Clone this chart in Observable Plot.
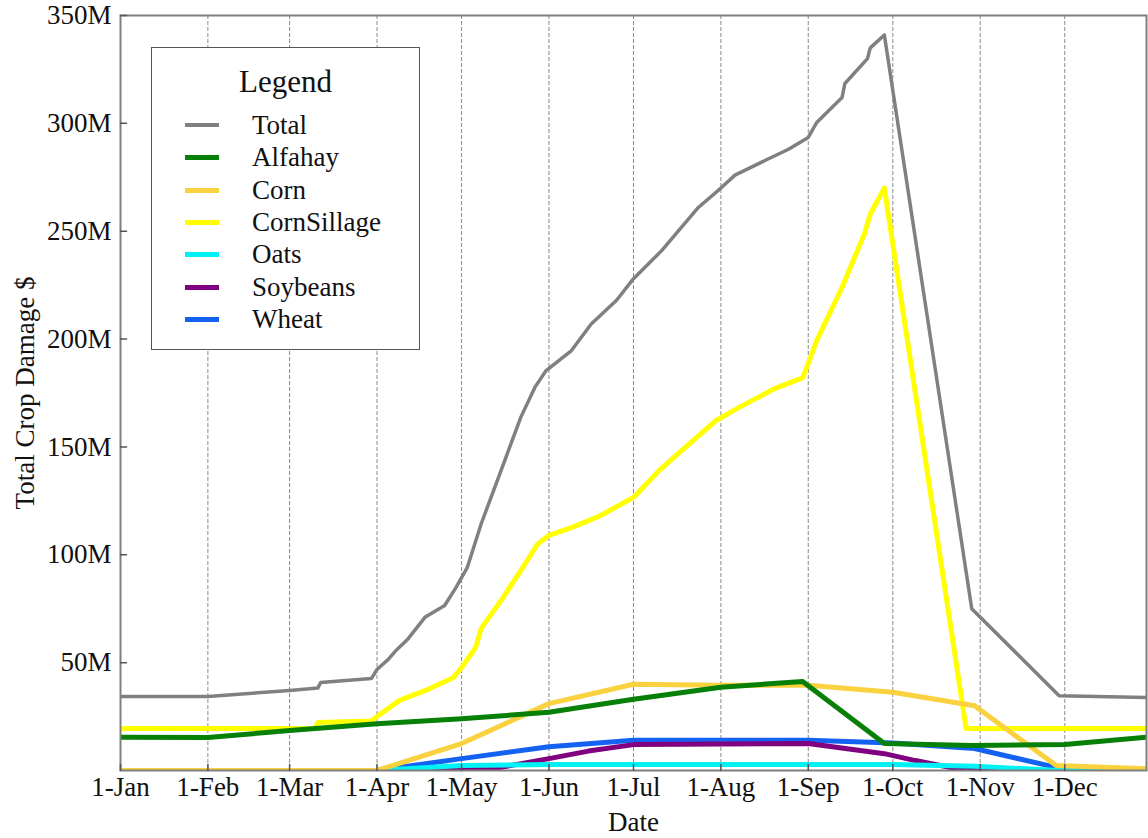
<!DOCTYPE html>
<html><head><meta charset="utf-8">
<script src="https://cdn.jsdelivr.net/npm/d3@7"></script>
<script src="https://cdn.jsdelivr.net/npm/@observablehq/plot@0.6"></script>
<style>
body{margin:0;background:#fff;}
#wrap{position:relative;width:1148px;height:838px;font-family:"Liberation Serif","Times New Roman",serif;}
#legend{position:absolute;left:151px;top:47px;width:267px;height:301px;border:1.5px solid #555;background:#fff;}
#legend .title{position:absolute;left:0;width:100%;top:14px;text-align:center;font-size:31px;line-height:40px;color:#111;}
#legend .row{position:absolute;left:0;height:32px;width:100%;}
#legend .sw{position:absolute;left:33px;width:34px;top:14px;height:5px;}
#legend .lb{position:absolute;left:100px;top:0;font-size:27px;line-height:32px;color:#111;}
</style></head>
<body><div id="wrap"></div>
<script>
// ---- data (values in millions of $) ----
const seriesNames = ["Total","Alfahay","Corn","CornSillage","Oats","Soybeans","Wheat"];
const seriesColors = ["#808080","#078007","#fad13f","#ffff00","#00f2f7","#800080","#1462f2"];

const total = [["2020-01-01",34.3],["2020-02-01",34.3],["2020-03-01",37.1],["2020-03-11",38.2],["2020-03-12",40.8],
 ["2020-03-30",42.6],["2020-04-01",46.8],["2020-04-05",51.5],["2020-04-08",56],["2020-04-12",61],["2020-04-18",71],
 ["2020-04-25",76.5],["2020-04-29",84.8],["2020-05-03",94],["2020-05-08",114.5],["2020-05-15",139],["2020-05-22",163.7],
 ["2020-05-27",177.6],["2020-05-31",185.4],["2020-06-09",194.7],["2020-06-16",207],["2020-06-25",218],["2020-07-01",228],
 ["2020-07-11",241],["2020-07-24",261],["2020-08-01",270],["2020-08-06",276],["2020-08-17",283],["2020-08-25",288],
 ["2020-09-01",293.5],["2020-09-04",300.4],["2020-09-13",312],["2020-09-14",318.5],["2020-09-22",330],["2020-09-23",335],
 ["2020-09-28",341],["2020-10-29",75],["2020-11-29",34.7],["2020-12-30",33.8]];
const alfahay = [["2020-01-01",15.4],["2020-02-01",15.3],["2020-03-01",18.5],["2020-04-01",21.7],["2020-05-01",24],
 ["2020-06-01",27],["2020-07-01",33],["2020-08-01",38.6],["2020-08-30",41.3],["2020-09-28",12.5],["2020-10-29",11.6],
 ["2020-12-01",12],["2020-12-30",15.4]];
const corn = [["2020-01-01",0],["2020-04-01",0],["2020-05-01",12.5],["2020-06-01",31],["2020-07-01",40],["2020-08-01",39.5],
 ["2020-09-01",39.5],["2020-10-01",36.3],["2020-10-30",30],["2020-11-28",2.3],["2020-12-30",0.8]];
const cornSillage = [["2020-01-01",19.5],["2020-03-10",19.5],["2020-03-11",22.3],["2020-03-30",23],["2020-04-01",25],
 ["2020-04-09",32.5],["2020-04-18",37],["2020-04-28",43],["2020-05-01",47.7],["2020-05-06",57],["2020-05-08",66],
 ["2020-05-15",78.8],["2020-05-22",92.7],["2020-05-28",105],["2020-06-01",109],["2020-06-09",112.6],["2020-06-19",118],
 ["2020-07-01",126.6],["2020-07-10",139],["2020-07-21",151.6],["2020-07-30",162],["2020-08-07",168],["2020-08-20",177],
 ["2020-08-30",182],["2020-09-01",188.6],["2020-09-04",199.3],["2020-09-13",224],["2020-09-21",249],["2020-09-23",258],
 ["2020-09-28",270],["2020-10-27",19.5],["2020-12-30",19.5]];
const oats = [["2020-01-01",0],["2020-04-01",0],["2020-05-01",2.3],["2020-06-01",2.8],["2020-10-01",2.8],["2020-10-30",2],
 ["2020-11-29",0],["2020-12-30",0]];
const soybeans = [["2020-01-01",0],["2020-05-01",0],["2020-05-15",1.5],["2020-06-01",5.5],["2020-06-15",9],["2020-07-01",12],
 ["2020-09-01",12.5],["2020-09-28",7.8],["2020-10-09",4.6],["2020-10-23",1],["2020-10-30",0],["2020-12-30",0]];
const wheat = [["2020-01-01",0],["2020-04-01",0],["2020-05-01",5.5],["2020-06-01",11],["2020-07-01",14],["2020-09-01",14],
 ["2020-10-01",12.7],["2020-10-30",10.2],["2020-11-26",2],["2020-12-05",0],["2020-12-30",0]];

const yTicks = [50,100,150,200,250,300,350];
const monthTicks = ["2020-01-01","2020-02-01","2020-03-01","2020-04-01","2020-05-01","2020-06-01",
 "2020-07-01","2020-08-01","2020-09-01","2020-10-01","2020-11-01","2020-12-01"];
const xDomain = ["2020-01-01","2020-12-30"];

// ---- build ----
const parse = d3.utcParse("%Y-%m-%d");
const seriesData = [total, alfahay, corn, cornSillage, oats, soybeans, wheat];
const rows = [];
seriesNames.forEach((name, i) => seriesData[i].forEach(([d, v]) => rows.push({series: name, date: parse(d), value: v * 1e6})));
const months = monthTicks.map(parse);
const dom = xDomain.map(parse);
const fmt = d3.utcFormat("%-d-%b");
const tickShape = {draw(ctx, l) { ctx.moveTo(0, 0); ctx.lineTo(0, -l); }};
const drawOrder = seriesNames.slice().reverse();

const lineMarks = drawOrder.map(name => {
  const i = seriesNames.indexOf(name);
  return Plot.line(rows.filter(r => r.series === name), {
    x: "date", y: "value", stroke: seriesColors[i],
    strokeWidth: name === "Total" ? 3.5 : 5, strokeLinejoin: "round", clip: true
  });
});

const chart = Plot.plot({
  width: 1148, height: 838,
  marginLeft: 120, marginRight: 2, marginTop: 15, marginBottom: 68,
  style: {fontFamily: '"Liberation Serif","Times New Roman",serif', fontSize: "27px", color: "#111", background: "#fff"},
  x: {type: "utc", domain: dom},
  y: {domain: [0, 350e6]},
  marks: [
    Plot.ruleX(months.slice(1), {stroke: "#8a8a8a", strokeWidth: 1, strokeDasharray: "4,2"}),
    ...lineMarks,
    Plot.frame({stroke: "#7f7f7f", strokeWidth: 2}),
    Plot.vector(yTicks, {x: () => dom[0], y: d => d * 1e6, length: 6, rotate: 90, anchor: "start", shape: tickShape, stroke: "#555", strokeWidth: 1.5}),
    Plot.vector(months, {x: d => d, y: () => 0, length: 6, rotate: 0, anchor: "start", shape: tickShape, stroke: "#555", strokeWidth: 1.5}),
    Plot.axisY({ticks: yTicks.map(d => d * 1e6), tickFormat: d => d / 1e6 + "M", tickSize: 0, tickPadding: 9,
      label: "Total Crop Damage $", labelArrow: "none", labelAnchor: "center", labelOffset: 106, fontSize: 27}),
    Plot.axisX({ticks: months, tickFormat: fmt, tickSize: 0, tickPadding: 6,
      label: "Date", labelArrow: "none", labelAnchor: "center", labelOffset: 60, fontSize: 27})
  ]
});
const wrap = document.getElementById("wrap");
wrap.appendChild(chart);

// legend box inside the plot
const lg = document.createElement("div");
lg.id = "legend";
lg.innerHTML = '<div class="title">Legend</div>';
seriesNames.forEach((name, i) => {
  const r = document.createElement("div");
  r.className = "row";
  r.style.top = (61 + i * 32.3) + "px";
  r.innerHTML = `<div class="sw" style="background:${seriesColors[i]};height:${name === "Total" ? 4 : 5}px"></div><div class="lb">${name}</div>`;
  lg.appendChild(r);
});
wrap.appendChild(lg);
</script>
</body></html>
